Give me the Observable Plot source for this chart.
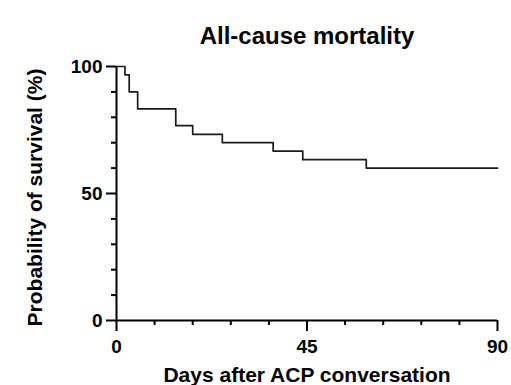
<!DOCTYPE html>
<html>
<head>
<meta charset="utf-8">
<script src="https://cdn.jsdelivr.net/npm/d3@7"></script>
<script src="https://cdn.jsdelivr.net/npm/@observablehq/plot@0.6"></script>
<style>
  html, body { margin: 0; padding: 0; background: #fff; }
</style>
</head>
<body>
<div id="chart"></div>
<script>
// Kaplan–Meier estimate (step-after)
const days = [0, 2, 3, 5, 14, 18, 25, 37, 44, 59, 90];
const survival = [100, 96.7, 90, 83.3, 76.7, 73.3, 70, 66.7, 63.3, 60, 60];

const xMajorTicks = [0, 45, 90];
const xMinorTicks = [9, 18, 27, 36, 54, 63, 72, 81];
const yMajorTicks = [0, 50, 100];
const yMinorTicks = [10, 20, 30, 40, 60, 70, 80, 90];

const titleText = "All-cause mortality";
const xLabelText = "Days after ACP conversation";
const yLabelText = "Probability of survival (%)";

const data = days.map((d, i) => ({day: d, surv: survival[i]}));
const font = "'Liberation Sans', Arial, Helvetica, sans-serif";
const noLabel = () => "";

const chart = Plot.plot({
  width: 511,
  height: 385,
  marginLeft: 116,
  marginRight: 14,
  marginTop: 66,
  marginBottom: 65,
  x: {domain: [0, 90], label: null},
  y: {domain: [0, 100], label: null},
  style: {fontFamily: font, fontWeight: "bold", color: "#000", background: "#fff", overflow: "visible"},
  marks: [
    Plot.line(data, {x: "day", y: "surv", curve: "step-after", stroke: "#1a1a1a", strokeWidth: 1.7}),
    Plot.ruleY([0], {stroke: "#000", strokeWidth: 2}),
    Plot.ruleX([0], {stroke: "#000", strokeWidth: 2}),
    Plot.axisX(xMajorTicks, {tickSize: 11, tickPadding: 8, strokeWidth: 2, fontSize: 19, fontWeight: "bold", label: null}),
    Plot.axisX(xMinorTicks, {tickSize: 5, strokeWidth: 2, tickFormat: noLabel, label: null}),
    Plot.axisY(yMajorTicks, {tickSize: 10, tickPadding: 4, strokeWidth: 2, fontSize: 19, fontWeight: "bold", label: null}),
    Plot.axisY(yMinorTicks, {tickSize: 5, strokeWidth: 2, tickFormat: noLabel, label: null}),
    Plot.text([titleText], {frameAnchor: "top", dy: -40, fontSize: 24, fontWeight: "bold", fill: "#000"}),
    Plot.text([xLabelText], {frameAnchor: "bottom", lineAnchor: "bottom", dy: 61.5, fontSize: 21, fontWeight: "bold", fill: "#000"}),
    Plot.text([yLabelText], {frameAnchor: "left", textAnchor: "middle", lineAnchor: "bottom", rotate: -90, dx: -75, dy: 4, fontSize: 21, fontWeight: "bold", fill: "#000"})
  ]
});
document.getElementById("chart").appendChild(chart);
</script>
</body>
</html>
